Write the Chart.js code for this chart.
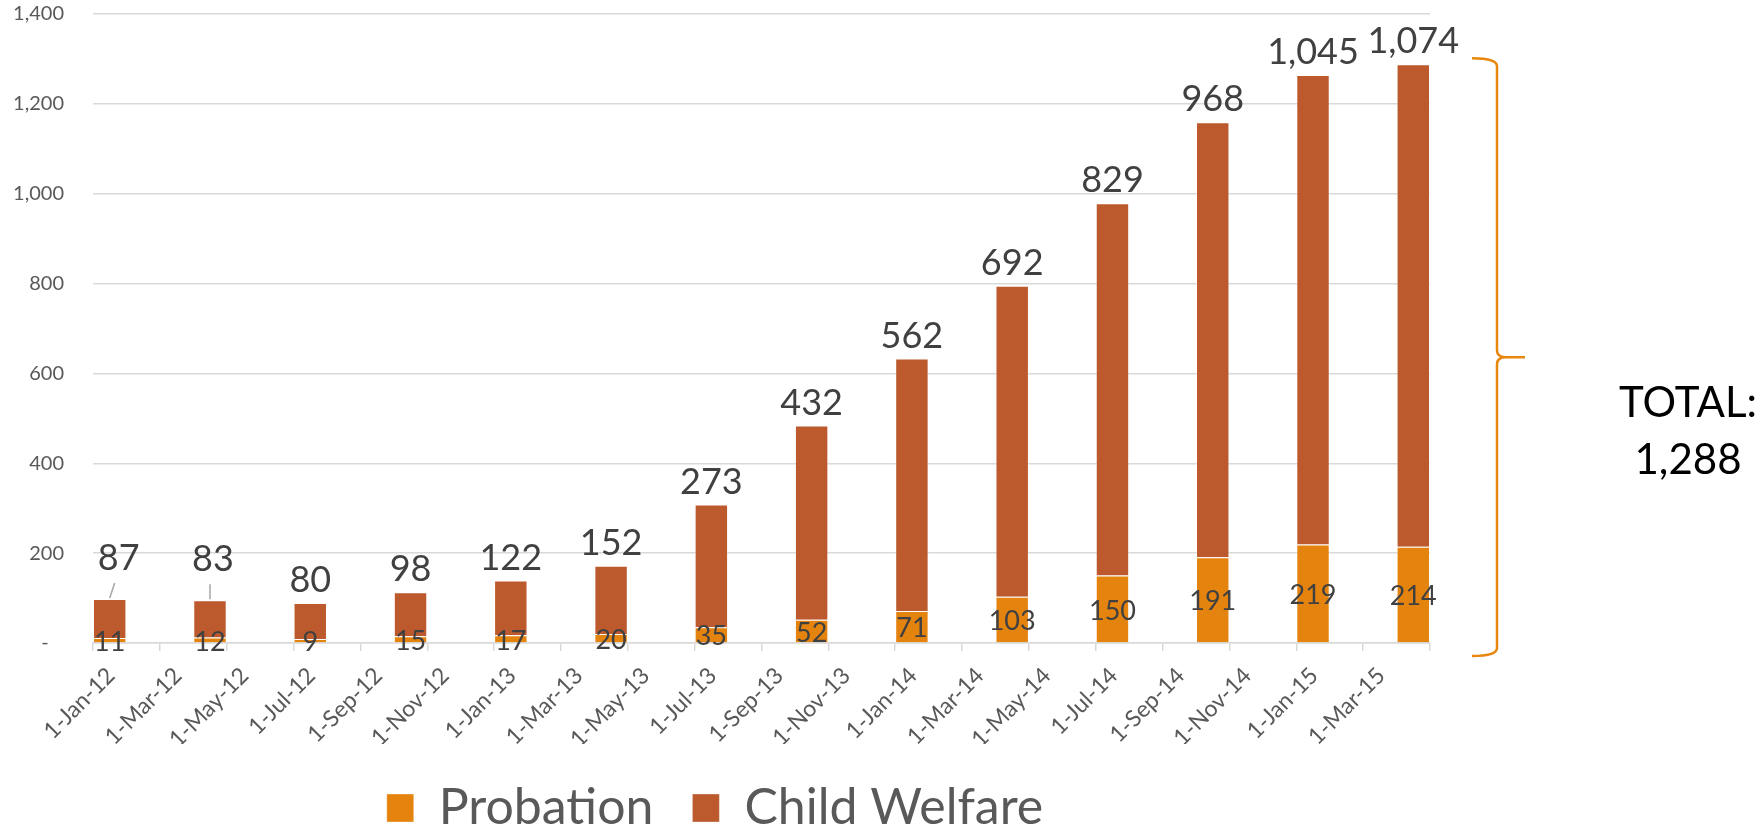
<!DOCTYPE html>
<html>
<head>
<meta charset="utf-8">
<title>Probation and Child Welfare</title>
<script src="https://cdn.jsdelivr.net/npm/chart.js@4.4.1/dist/chart.umd.min.js"></script>
<style>
  html, body { margin: 0; padding: 0; background: #fff; }
  #wrap { width: 1761px; height: 831px; }
</style>
</head>
<body>
<div id="wrap"><canvas id="chart"></canvas></div>
<script>
// quarterly counts, one bar per quarter
const barMonths = ['2012-01', '2012-04', '2012-07', '2012-10', '2013-01', '2013-04', '2013-07',
  '2013-10', '2014-01', '2014-04', '2014-07', '2014-10', '2015-01', '2015-04'];
const probation = [11, 12, 9, 15, 17, 20, 35, 52, 71, 103, 150, 191, 219, 214];
const childWelfare = [87, 83, 80, 98, 122, 152, 273, 432, 562, 692, 829, 968, 1045, 1074];

// date axis runs Jan-12 .. May-15, labelled every two months
const axisStart = '2012-01';
const axisEnd = '2015-05';
const monthNames = ['Jan', 'Feb', 'Mar', 'Apr', 'May', 'Jun', 'Jul', 'Aug', 'Sep', 'Oct', 'Nov', 'Dec'];
const yMax = 1400;
const yStep = 200;

// bars whose top label was dragged up and got a leader line
const leaderBars = [0, 1];

const FONT = 'Lato';
const PROBATION_COLOR = '#E5830F';
const WELFARE_COLOR = '#BC592D';

function monthOffset(s) {
  const [y, m] = s.split('-').map(Number);
  const [y0, m0] = axisStart.split('-').map(Number);
  return (y - y0) * 12 + (m - m0);
}

function monthLabel(offset) {
  const [y0, m0] = axisStart.split('-').map(Number);
  const total = (m0 - 1) + offset;
  const y = y0 + Math.floor(total / 12);
  return '1-' + monthNames[total % 12] + '-' + String(y).slice(2);
}

const fmt = v => v.toLocaleString('en-US');

// each bar fills its own month slot
const probationPoints = barMonths.map((d, i) => ({ x: monthOffset(d) + 0.5, y: probation[i] }));
const welfarePoints = barMonths.map((d, i) => ({ x: monthOffset(d) + 0.5, y: childWelfare[i] }));

const barLabels = {
  id: 'barLabels',
  afterDatasetsDraw(chart) {
    const ctx = chart.ctx;
    ctx.save();
    ctx.fillStyle = '#404040';
    ctx.textAlign = 'center';

    ctx.font = '27px ' + FONT;
    ctx.textBaseline = 'middle';
    chart.getDatasetMeta(0).data.forEach((bar, i) => {
      ctx.fillText(fmt(probation[i]), bar.x, (bar.y + bar.base) / 2 + 2);
    });

    ctx.font = '36px ' + FONT;
    ctx.textBaseline = 'alphabetic';
    chart.getDatasetMeta(1).data.forEach((bar, i) => {
      const lifted = leaderBars.includes(i);
      const dx = lifted ? (i === 0 ? 9 : 3) : 0;
      ctx.fillText(fmt(childWelfare[i]), bar.x + dx, bar.y - (lifted ? 29 : 11));
      if (lifted) {
        ctx.strokeStyle = '#a6a6a6';
        ctx.lineWidth = 1.5;
        ctx.beginPath();
        ctx.moveTo(bar.x, bar.y - 1);
        ctx.lineTo(bar.x + (i === 0 ? 5 : 0), bar.y - 16);
        ctx.stroke();
      }
    });
    ctx.restore();
  }
};

const totalBracket = {
  id: 'totalBracket',
  afterDraw(chart) {
    const { ctx, chartArea, scales } = chart;
    const last = probation.length - 1;
    const total = probation[last] + childWelfare[last];
    const top = scales.y.getPixelForValue(total) - 6;
    const bottom = scales.y.getPixelForValue(0) + 13;
    const mid = (top + bottom) / 2;
    const x = chartArea.right + 67;

    ctx.save();
    ctx.strokeStyle = '#E8870E';
    ctx.lineWidth = 2.5;
    ctx.beginPath();
    ctx.moveTo(x - 25, top);
    ctx.quadraticCurveTo(x, top, x, top + 8);
    ctx.lineTo(x, mid - 7);
    ctx.quadraticCurveTo(x, mid, x + 9, mid);
    ctx.lineTo(x + 28, mid);
    ctx.moveTo(x + 9, mid);
    ctx.quadraticCurveTo(x, mid, x, mid + 7);
    ctx.lineTo(x, bottom - 8);
    ctx.quadraticCurveTo(x, bottom, x - 25, bottom);
    ctx.stroke();

    ctx.fillStyle = '#000';
    ctx.font = '42px ' + FONT;
    ctx.textAlign = 'center';
    ctx.textBaseline = 'alphabetic';
    ctx.fillText('TOTAL:', chartArea.right + 258, mid + 60);
    ctx.fillText(fmt(total), chartArea.right + 258, mid + 117);
    ctx.restore();
  }
};

new Chart(document.getElementById('chart'), {
  type: 'bar',
  data: {
    datasets: [
      {
        label: 'Probation',
        data: probationPoints,
        backgroundColor: PROBATION_COLOR,
        borderColor: 'rgba(255,255,255,0.35)',
        borderWidth: 1,
        barPercentage: 0.5,
        categoryPercentage: 1
      },
      {
        label: 'Child Welfare',
        data: welfarePoints,
        backgroundColor: WELFARE_COLOR,
        borderColor: 'rgba(255,255,255,0.35)',
        borderWidth: 1,
        barPercentage: 0.5,
        categoryPercentage: 1
      }
    ]
  },
  options: {
    responsive: true,
    maintainAspectRatio: false,
    animation: false,
    layout: { padding: { left: 0, right: 331, top: 14, bottom: 0 } },
    plugins: {
      tooltip: { enabled: false },
      legend: {
        position: 'bottom',
        maxHeight: 87,
        labels: {
          font: { family: FONT, size: 50 },
          color: '#595959',
          boxWidth: 27,
          boxHeight: 28,
          padding: 39
        }
      }
    },
    scales: {
      x: {
        type: 'linear',
        stacked: true,
        offset: false,
        min: 0,
        max: monthOffset(axisEnd),
        afterFit: s => { s.height = 101; },
        grid: {
          offset: false,
          drawOnChartArea: false,
          drawTicks: true,
          tickLength: 8,
          color: '#d9d9d9',
          lineWidth: 1.5
        },
        border: { display: true, color: '#d9d9d9', width: 1.5 },
        ticks: {
          stepSize: 2,
          maxTicksLimit: 25,
          autoSkip: false,
          minRotation: 45,
          maxRotation: 45,
          labelOffset: 18,
          padding: 11,
          color: '#595959',
          font: { family: FONT, size: 23 },
          callback: v => (v >= monthOffset(axisEnd) ? '' : monthLabel(v))
        }
      },
      y: {
        stacked: true,
        min: 0,
        max: yMax,
        afterFit: s => { s.width = 93; },
        grid: {
          color: '#d9d9d9',
          lineWidth: 1.5,
          drawTicks: true,
          tickLength: 29,
          tickColor: 'rgba(0,0,0,0)'
        },
        border: { display: false },
        ticks: {
          stepSize: yStep,
          padding: 0,
          color: '#595959',
          font: { family: FONT, size: 20 },
          callback: v => (v === 0 ? '-   ' : fmt(v))
        }
      }
    }
  },
  plugins: [barLabels, totalBracket]
});
</script>
</body>
</html>
